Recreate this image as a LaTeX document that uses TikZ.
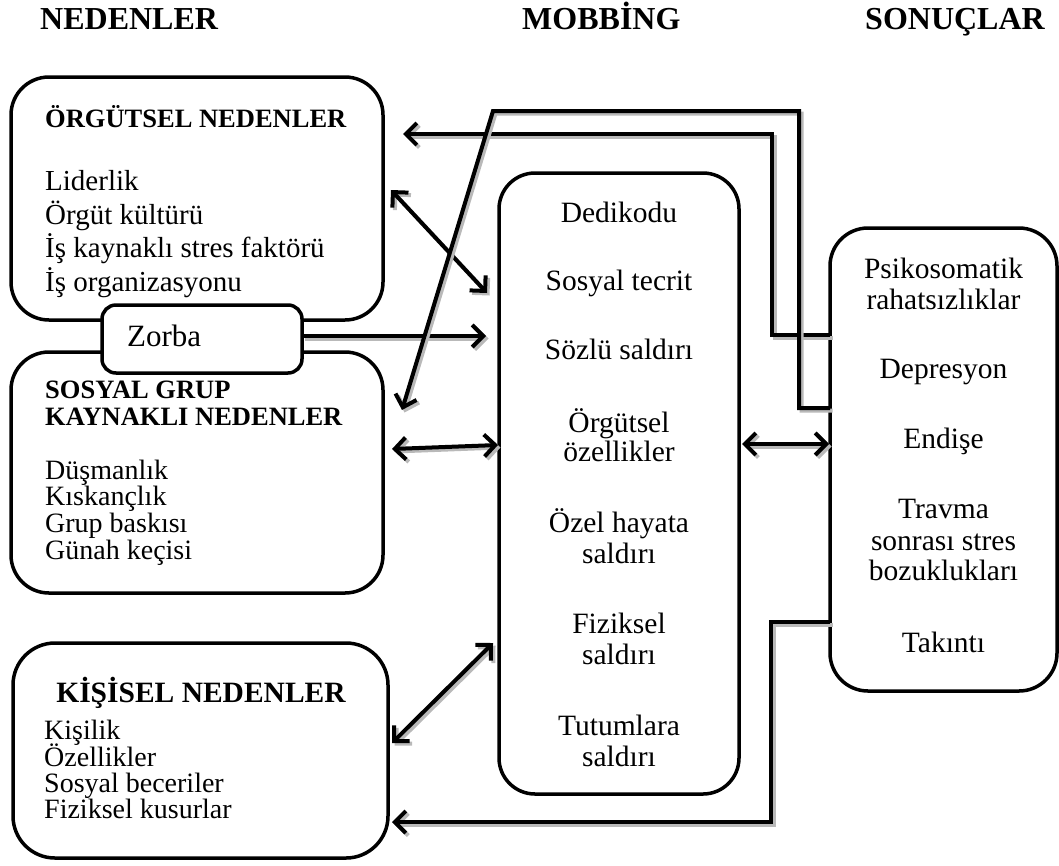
\documentclass[tikz,border=0pt]{standalone}
\usepackage{fontspec}
\setmainfont{Liberation Serif}
\usetikzlibrary{arrows.meta}
\begin{document}
\begin{tikzpicture}[x=1pt,y=-1pt,
  box/.style={draw, line width=3.5pt, rounded corners=38pt, fill=white, inner sep=0pt},
  conn/.style={line width=4pt, preaction={draw=gray!55, line width=4pt, transform canvas={shift={(2.5,2.5)}}}},
  tipend/.style={-{Straight Barb[length=11pt,width=22pt]}},
  tipboth/.style={{Straight Barb[length=11pt,width=22pt]}-{Straight Barb[length=11pt,width=22pt]}},
  head/.style={font=\bfseries\fontsize{32}{34}\selectfont, inner sep=0pt, anchor=base west},
  ttl/.style={font=\bfseries\fontsize{26.5}{28}\selectfont, inner sep=0pt, anchor=base west, text height=18pt, text depth=4pt},
  body/.style={font=\fontsize{29}{30}\selectfont, inner sep=0pt, anchor=base west, text height=19pt, text depth=5pt},
  tbody/.style={font=\fontsize{28}{29}\selectfont, inner sep=0pt, anchor=base west, text height=18pt, text depth=5pt},
  cbody/.style={font=\fontsize{29.5}{30}\selectfont, inner sep=0pt, anchor=base, text height=19pt, text depth=5pt}
]
\useasboundingbox (0,0) rectangle (1059,865);

% headers
\node[head] (h1) at (40,29) {NEDENLER};
\node[head] (h2) at (522,29) {MOBBİNG};
\node[head] (h3) at (865,29) {SONUÇLAR};

% boxes
\node[box, minimum width=372pt, minimum height=243pt] (org) at (197,198.5) {};
\node[box, minimum width=372pt, minimum height=241pt] (sos) at (197,472.5) {};
\node[box, rounded corners=14pt, minimum width=200pt, minimum height=68pt] (zorba) at (202,339) {};
\node[box, minimum width=375pt, minimum height=215pt, rounded corners=42pt] (kis) at (200.5,750.5) {};
\node[box, minimum width=240pt, minimum height=621pt, rounded corners=36pt] (mid) at (619,483.5) {};
\node[box, minimum width=227pt, minimum height=463pt] (res) at (943.5,459.5) {};

% texts: organizational
\node[ttl] (ot) at (45,127) {ÖRGÜTSEL NEDENLER};
\node[body] (o1) at (45,190) {Liderlik};
\node[body] (o2) at (45,224) {Örgüt kültürü};
\node[body] (o3) at (45,257) {İş kaynaklı stres faktörü};
\node[body] (o4) at (45,291) {İş organizasyonu};

% zorba
\node[font=\fontsize{31}{32}\selectfont, inner sep=0pt, anchor=base west] (zt) at (127,346) {Zorba};

% social group
\node[ttl] (st1) at (45,398) {SOSYAL GRUP};
\node[ttl] (st2) at (45,425) {KAYNAKLI NEDENLER};
\node[tbody] (s1) at (45,479) {Düşmanlık};
\node[tbody] (s2) at (45,505.5) {Kıskançlık};
\node[tbody] (s3) at (45,532.5) {Grup baskısı};
\node[tbody] (s4) at (45,559) {Günah keçisi};

% personal
\node[font=\bfseries\fontsize{29.5}{30}\selectfont, inner sep=0pt, anchor=base] (kt) at (201,702) {KİŞİSEL NEDENLER};
\node[tbody] (k1) at (44,739) {Kişilik};
\node[tbody] (k2) at (44,766) {Özellikler};
\node[tbody] (k3) at (44,792) {Sosyal beceriler};
\node[tbody] (k4) at (44,818.5) {Fiziksel kusurlar};

% mobbing
\foreach \yy/\tt [count=\i] in {222/Dedikodu, 290/Sosyal tecrit, 359/Sözlü saldırı, 432/Örgütsel, 461/özellikler, 532/Özel hayata, 563/saldırı, 633/Fiziksel, 664/saldırı, 735/Tutumlara, 766/saldırı}
  \node[cbody] (m\i) at (619,\yy) {\tt};

% results
\foreach \yy/\tt [count=\i] in {278/Psikosomatik, 309/rahatsızlıklar, 378/Depresyon, 448/Endişe, 518/Travma, 550/sonrası stres, 580/bozuklukları, 652/Takıntı}
  \node[cbody] (r\i) at (943.5,\yy) {\tt};

% connector points
\coordinate (a1) at (391,190);
\coordinate (a2) at (487,293);
\coordinate (b1) at (392,449);
\coordinate (b2) at (498,445);
\coordinate (c1) at (392,743);
\coordinate (c2) at (493,643);
\coordinate (d1) at (742,444);
\coordinate (d2) at (829,444);
\coordinate (zt1) at (486,336);
\coordinate (zs) at (302,336);
\coordinate (e1) at (830,335);
\coordinate (e2) at (772,335);
\coordinate (e3) at (772,134);
\coordinate (e4) at (403,134);
\coordinate (f1) at (830,408);
\coordinate (f2) at (799,408);
\coordinate (f3) at (799,111);
\coordinate (f4) at (493,111);
\coordinate (f5) at (402,410);
\coordinate (g1) at (830,622);
\coordinate (g2) at (771,622);
\coordinate (g3) at (771,822);
\coordinate (g4) at (392,822);

% connectors
\draw[conn, tipboth] (a1) -- (a2);
\draw[conn, tipboth] (b1) -- (b2);
\draw[conn, tipboth] (c1) -- (c2);
\draw[conn, tipboth] (d1) -- (d2);
\draw[conn, tipend] (zs) -- (zt1);
\draw[conn, tipend] (e1) -- (e2) -- (e3) -- (e4);
\draw[conn, tipend] (f1) -- (f2) -- (f3) -- (f4) -- (f5);
\draw[conn, tipend] (g1) -- (g2) -- (g3) -- (g4);
\end{tikzpicture}
\end{document}
